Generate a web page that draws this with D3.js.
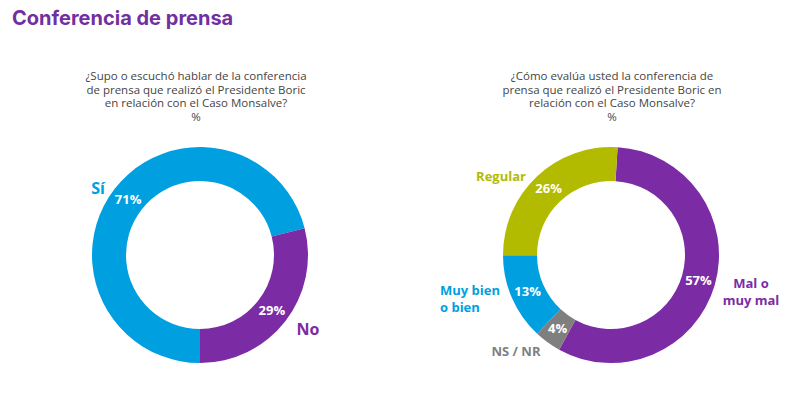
<!DOCTYPE html>
<html><head><meta charset="utf-8">
<script src="https://cdn.jsdelivr.net/npm/d3@7"></script>
<style>
html,body{margin:0;padding:0;background:#fff;}
svg{display:block;font-family:"Open Sans",sans-serif;}
</style></head>
<body>
<svg id="c" width="800" height="398"></svg>
<script>
const title = "Conferencia de prensa";
const q1Lines = ["¿Supo o escuchó hablar de la conferencia","de prensa que realizó el Presidente Boric","en relación con el Caso Monsalve?","%"];
const q2Lines = ["¿Cómo evalúa usted la conferencia de","prensa que realizó el Presidente Boric en","relación con el Caso Monsalve?","%"];
const cats1 = ["Sí","No"];
const vals1 = [71,29];
const cats2 = ["Mal o muy mal","NS / NR","Muy bien o bien","Regular"];
const vals2 = [57,4,13,26];

const BLUE="#009fe0", PURPLE="#7b2ca4", GREEN="#b3bb00", GRAY="#7f7f7f";
const colors1=[BLUE,PURPLE];
const colors2=[PURPLE,GRAY,BLUE,GREEN];

const svg=d3.select("#c");
svg.append("text").attr("x",12).attr("y",25).attr("fill","#7030a0")
  .attr("font-size",20).attr("font-weight",700).attr("font-family","Inter, 'Open Sans', sans-serif").text(title);

function question(lines,cx){
  const t=svg.append("text").attr("text-anchor","middle").attr("fill","#454545").attr("font-size",11.5);
  lines.forEach((l,i)=>t.append("tspan").attr("x",cx).attr("y",80+i*13.6).text(l));
}
question(q1Lines,196);
question(q2Lines,612);

function donut(cx,cy,vals,cols,start){
  const pie=d3.pie().sort(null).startAngle(start).endAngle(start+2*Math.PI);
  const arcs=pie(vals);
  const arc=d3.arc().innerRadius(74).outerRadius(108);
  const lab=d3.arc().innerRadius(91).outerRadius(91);
  const g=svg.append("g").attr("transform",`translate(${cx},${cy})`);
  g.selectAll("path").data(arcs).join("path").attr("d",arc).attr("fill",(d,i)=>cols[i]);
  g.selectAll("text.p").data(arcs).join("text").attr("class","p")
    .attr("transform",d=>`translate(${lab.centroid(d)})`).attr("text-anchor","middle").attr("dy","0.35em")
    .attr("fill","#fff").attr("font-weight",700).attr("font-size",13).text(d=>d.data+"%");
  return g;
}
const g1=donut(200,255,vals1,colors1,Math.PI);
const g2=donut(611,255,vals2,colors2,3.5*Math.PI/180);

function catLabel(g,lines,x,y,anchor,color,size){
  const t=g.append("text").attr("text-anchor",anchor).attr("fill",color).attr("font-weight",700).attr("font-size",size);
  lines.forEach((l,i)=>t.append("tspan").attr("x",x).attr("y",y+i*16.5).text(l));
}
catLabel(g1,[cats1[0]],-102,-61,"middle",BLUE,16);
catLabel(g1,[cats1[1]],108,80,"middle",PURPLE,16);
catLabel(g2,["Mal o","muy mal"],140,33,"middle",PURPLE,13);
catLabel(g2,[cats2[1]],-95,101,"middle",GRAY,13);
catLabel(g2,["Muy bien","o bien"],-171,40,"start",BLUE,13);
catLabel(g2,[cats2[3]],-110,-74,"middle",GREEN,13);
</script>
</body></html>
